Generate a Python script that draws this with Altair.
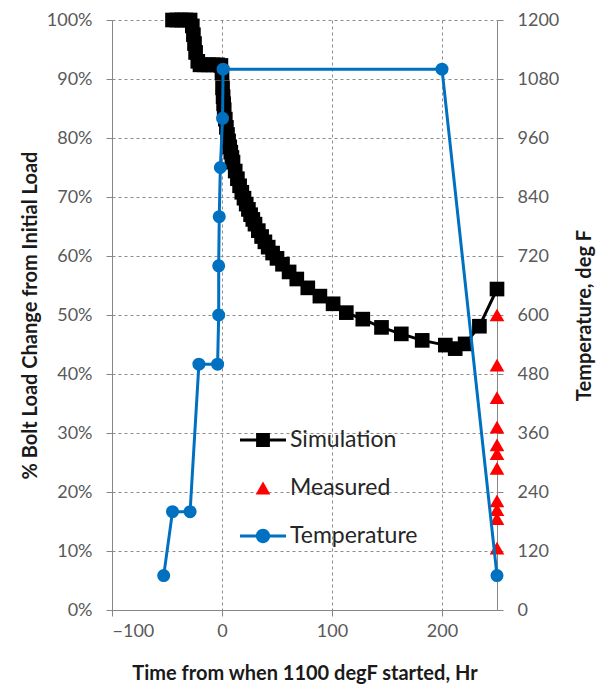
import altair as alt
import pandas as pd

# ---------------- data ----------------
sim_hr = [-45, -41, -37, -33, -29, -27, -26, -25, -24, -22, -20, -16, -12, -8, -4, -1,
          0, 0.5, 1, 1.5, 2, 3, 4, 5, 6, 7, 8, 9, 10, 12, 14, 16, 18, 20, 22, 24, 26, 28,
          30, 33, 36, 39, 42, 46, 50, 55, 61, 68, 78, 89, 101, 113, 128, 145, 163, 182,
          203, 212, 221, 234, 250]
sim_pct = [100, 100, 100, 100, 100, 99, 97.5, 96, 94.5, 93, 92.4, 92.4, 92.4, 92.4, 92.4, 92.3,
           91, 88.5, 87, 85.8, 84.8, 83.2, 81.8, 80.6, 79.5, 78.5, 77.6, 76.7, 75.9, 74.4, 73.1,
           71.9, 70.8, 69.8, 68.8, 67.9, 67.0, 66.2, 65.4, 64.3, 63.3, 62.4, 61.5, 60.5, 59.6,
           58.6, 57.3, 56.1, 54.6, 53.2, 51.9, 50.4, 49.3, 47.9, 46.8, 45.7, 44.9, 44.3, 45.1,
           48.1, 54.4]

meas_hr = [250, 250, 250, 250, 250, 250, 250, 250, 250, 250, 250]
meas_pct = [50, 41.5, 36, 31, 28, 26.5, 24, 18.5, 17, 15.5, 10.5]

temp_hr = [-53, -45, -29, -21, -4, -3, -3, -2.5, -1.5, 0.5, 1, 200, 250]
temp_f = [70, 200, 200, 500, 500, 600, 700, 800, 900, 1000, 1100, 1100, 70]

series_names = ["Simulation", "Measured", "Temperature"]
series_colors = ["#000000", "#FF0000", "#0070C0"]

x_ticks = [-100, 0, 100, 200]
pct_ticks = [0, 10, 20, 30, 40, 50, 60, 70, 80, 90, 100]
temp_ticks = [0, 120, 240, 360, 480, 600, 720, 840, 960, 1080, 1200]

x_title = "Time from when 1100 degF started, Hr"
y_left_title = "% Bolt Load Change from Initial Load"
y_right_title = "Temperature, deg F"

# ---------------- tables ----------------
sim_df = pd.DataFrame({"hr": sim_hr, "pct": sim_pct, "ord": list(range(len(sim_hr)))})
meas_df = pd.DataFrame({"hr": meas_hr, "pct": meas_pct})
temp_df = pd.DataFrame({"hr": temp_hr, "temp": temp_f, "ord": list(range(len(temp_hr)))})
legend_df = pd.DataFrame({"series": series_names, "hr": [0, 0, 0], "pct": [0, 0, 0]})

FONT = "Lato"
GRID = "#8c8c8c"
AXISC = "#868686"
LABC = "#595959"
TITC = "#1a1a1a"

PLOT_H = 590

x_enc = alt.X(
    "hr:Q",
    scale=alt.Scale(domain=[-100, 250], nice=False, zero=False),
    axis=alt.Axis(
        values=x_ticks, title=x_title, grid=True, gridDash=[3, 3], gridColor=GRID,
        labelFontSize=18, labelPadding=6, tickSize=6, labelColor=LABC,
        titleFontSize=20, titleFontWeight="bold", titleColor=TITC,
        titleY=63, titleBaseline="middle",
    ),
)

y_left = alt.Y(
    "pct:Q",
    scale=alt.Scale(domain=[0, 100], nice=False),
    axis=alt.Axis(
        values=pct_ticks, labelExpr="datum.value + '%'", title=y_left_title,
        grid=True, gridDash=[3, 3], gridColor=GRID,
        labelFontSize=18, labelPadding=14, tickSize=6, labelColor=LABC,
        titleFontSize=20, titleFontWeight="bold", titleColor=TITC,
        titleX=-82, titleY=PLOT_H / 2, titleAngle=270, titleAlign="center",
        titleBaseline="middle",
    ),
)

y_right = alt.Y(
    "temp:Q",
    scale=alt.Scale(domain=[0, 1200], nice=False),
    axis=alt.Axis(
        orient="right", values=temp_ticks, format="d", title=y_right_title, grid=False,
        labelFontSize=18, labelPadding=14, tickSize=6, labelColor=LABC,
        titleFontSize=20, titleFontWeight="bold", titleColor=TITC,
        titleX=87, titleY=PLOT_H / 2, titleAngle=270, titleAlign="center",
        titleBaseline="middle",
    ),
)

sim_line = alt.Chart(sim_df).mark_line(color="#000000", strokeWidth=3).encode(
    x=x_enc, y=y_left, order="ord:Q")
sim_pts = alt.Chart(sim_df).mark_point(shape="square", filled=True, size=215,
                                       color="#000000", opacity=1).encode(x=x_enc, y=y_left)
meas_pts = alt.Chart(meas_df).mark_point(shape="triangle-up", filled=True, size=215,
                                         color="#FF0000", opacity=1).encode(x=x_enc, y=y_left)

legend_paths = [
    "M-1,-0.065H1V0.065H-1Z M-0.3,-0.3H0.3V0.3H-0.3Z",
    "M0,-0.28L0.32,0.28H-0.32Z",
    "M-1,-0.065H1V0.065H-1Z M0.31,0A0.31,0.31 0 1,1 -0.31,0A0.31,0.31 0 1,1 0.31,0Z",
]
leg = alt.Legend(
    title=None, orient="none", legendX=128, legendY=397,
    labelFont=FONT, labelFontSize=23, labelColor="#262626",
    symbolSize=2116, labelOffset=4, rowPadding=13, symbolStrokeWidth=0,
)
legend_layer = alt.Chart(legend_df).transform_filter("false").mark_point(
    filled=True, opacity=1).encode(
    x=x_enc, y=y_left,
    color=alt.Color("series:N", scale=alt.Scale(domain=series_names, range=series_colors), legend=leg),
    shape=alt.Shape("series:N", scale=alt.Scale(domain=series_names, range=legend_paths), legend=leg),
)

temp_line = alt.Chart(temp_df).mark_line(color="#0070C0", strokeWidth=3).encode(
    x=x_enc, y=y_right, order="ord:Q")
temp_pts = alt.Chart(temp_df).mark_point(shape="circle", filled=True, size=170,
                                         color="#0070C0", opacity=1).encode(x=x_enc, y=y_right)

left = alt.layer(sim_line, sim_pts, meas_pts, legend_layer)
right = alt.layer(temp_line, temp_pts)

chart = alt.layer(left, right).resolve_scale(y="independent").properties(
    width=385, height=PLOT_H,
    autosize=alt.AutoSizeParams(type="none"),
    padding={"left": 104, "top": 12, "right": 103, "bottom": 74},
).configure_view(stroke=None).configure_axis(
    labelFont=FONT, titleFont=FONT, domainColor=AXISC, tickColor=AXISC,
    domainWidth=1, tickWidth=1,
)

chart.save("out.html", embed_options={"renderer": "svg", "actions": False})
